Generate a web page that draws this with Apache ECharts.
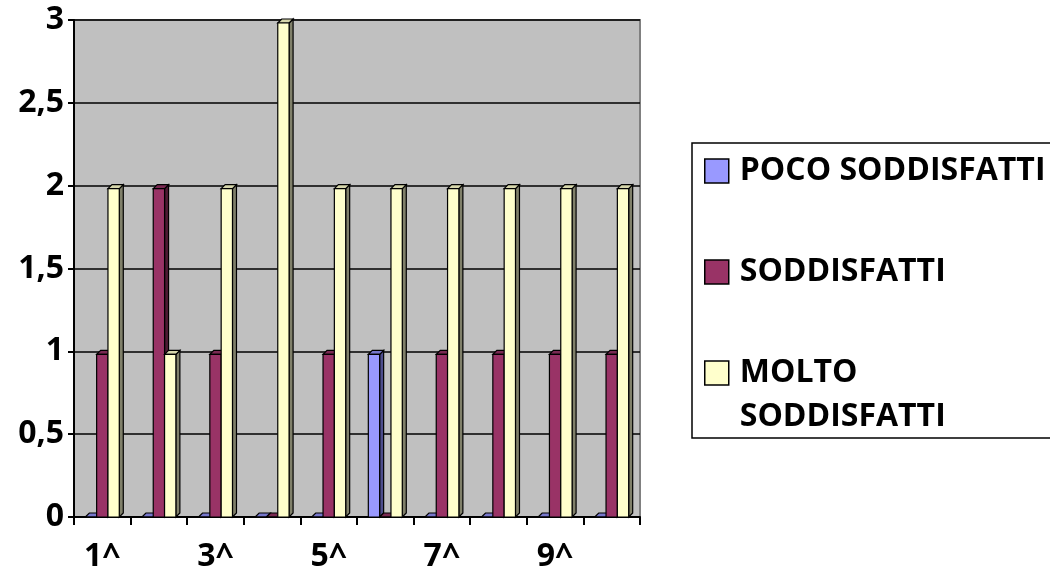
<!DOCTYPE html>
<html>
<head>
<meta charset="utf-8">
<script src="https://cdn.jsdelivr.net/npm/echarts@6/dist/echarts.min.js"></script>
<style>
html,body{margin:0;padding:0;background:#fff;}
#chart{width:1050px;height:579px;}
</style>
</head>
<body>
<div id="chart"></div>
<script>
const categories = ['1^','2^','3^','4^','5^','6^','7^','8^','9^','10^'];
const seriesNames = ['POCO SODDISFATTI','SODDISFATTI','MOLTO SODDISFATTI'];
const pocoSoddisfatti  = [0,0,0,0,0,1,0,0,0,0];
const soddisfatti      = [1,2,1,0,1,0,1,1,1,1];
const moltoSoddisfatti = [2,1,2,3,2,2,2,2,2,2];
const yTicks = [0,0.5,1,1.5,2,2.5,3];

const FONT = 'Open Sans';
const FS = 32;
const fronts = ['#9999FF','#993366','#FFFFCC'];
const sides  = ['#4d4d8c','#4d1a33','#80806a'];
const tops   = ['#7777cc','#7a2952','#d6d6ab'];

function render3D(params, api){
  const cat = api.value(0), val = api.value(1);
  const s = params.seriesIndex;
  const base = api.coord([cat, 0]);
  const topP = api.coord([cat, val]);
  const band = api.size([1,0])[0];
  const w = band*0.2;
  const d = 4;
  const x0 = base[0] - 1.5*w + s*w;
  const yb = base[1];
  const yt = Math.min(topP[1] + 3, yb);
  const stroke = {stroke:'#000', lineWidth:1.2};
  return {type:'group', children:[
    {type:'polygon', shape:{points:[[x0+w,yt],[x0+w+d,yt-d],[x0+w+d,yb-d],[x0+w,yb]]}, style:Object.assign({fill:sides[s]},stroke)},
    {type:'polygon', shape:{points:[[x0,yt],[x0+d,yt-d],[x0+w+d,yt-d],[x0+w,yt]]}, style:Object.assign({fill:tops[s]},stroke)},
    {type:'rect', shape:{x:x0,y:yt,width:w,height:yb-yt}, style:Object.assign({fill:fronts[s]},stroke)}
  ]};
}

const dataSets = [pocoSoddisfatti, soddisfatti, moltoSoddisfatti];
const series = dataSets.map((arr,i)=>({
  name: seriesNames[i],
  type: 'custom',
  renderItem: render3D,
  itemStyle: {color: fronts[i]},
  encode: {x:0, y:1},
  data: arr.map((v,j)=>[j, v]),
  z: 3
}));

const richT = {t:{fontFamily:FONT, fontWeight:'bold', fontSize:FS, color:'#000', lineHeight:44, padding:[0,0,0,6]}};
const legendCommon = {
  orient:'vertical', left:692, itemWidth:24, itemHeight:24,
  padding:[0,0,0,12],
  icon:'rect',
  itemStyle:{borderColor:'#000', borderWidth:1.5},
  textStyle:{fontFamily:FONT, fontWeight:'bold', fontSize:FS, color:'#000', lineHeight:44, rich:richT},
  selectedMode:false
};

const chart = echarts.init(document.getElementById('chart'), null, {renderer:'canvas'});
chart.setOption({
  animation:false,
  backgroundColor:'#ffffff',
  grid:{left:74, right:410, top:20, bottom:62, show:true, backgroundColor:'#C0C0C0', borderColor:'#808080', borderWidth:2},
  xAxis:{
    type:'category', data:categories, boundaryGap:true,
    axisLine:{lineStyle:{color:'#000', width:2}},
    axisTick:{show:true, interval:0, length:8, lineStyle:{color:'#000', width:2}},
    axisLabel:{interval:1, margin:24, fontFamily:FONT, fontWeight:'bold', fontSize:FS, color:'#000'},
    splitLine:{show:false}
  },
  yAxis:{
    type:'value', min:0, max:3, interval:0.5,
    axisLine:{show:true, lineStyle:{color:'#000', width:2}},
    axisTick:{show:true, length:6, lineStyle:{color:'#000', width:2}},
    axisLabel:{margin:10, fontFamily:FONT, fontWeight:'bold', fontSize:FS, color:'#000',
      formatter:v=>String(v).replace('.',',')},
    splitLine:{show:true, lineStyle:{color:'#000', width:1.5}}
  },
  legend:[
    Object.assign({}, legendCommon, {data:[seriesNames[0], seriesNames[1]], top:149, itemGap:57,
      formatter:n=>'{t|'+n+'}'}),
    Object.assign({}, legendCommon, {data:[seriesNames[2]], top:307,
      formatter:n=>'{t|\u00a0}\n{t|'+n.split(' ').join('}\n{t|')+'}'})
  ],
  graphic:[{type:'rect', shape:{x:692, y:143, width:400, height:295}, style:{fill:'none', stroke:'#000', lineWidth:1.5}, silent:true, z:10}],
  series: series
});
</script>
</body>
</html>
